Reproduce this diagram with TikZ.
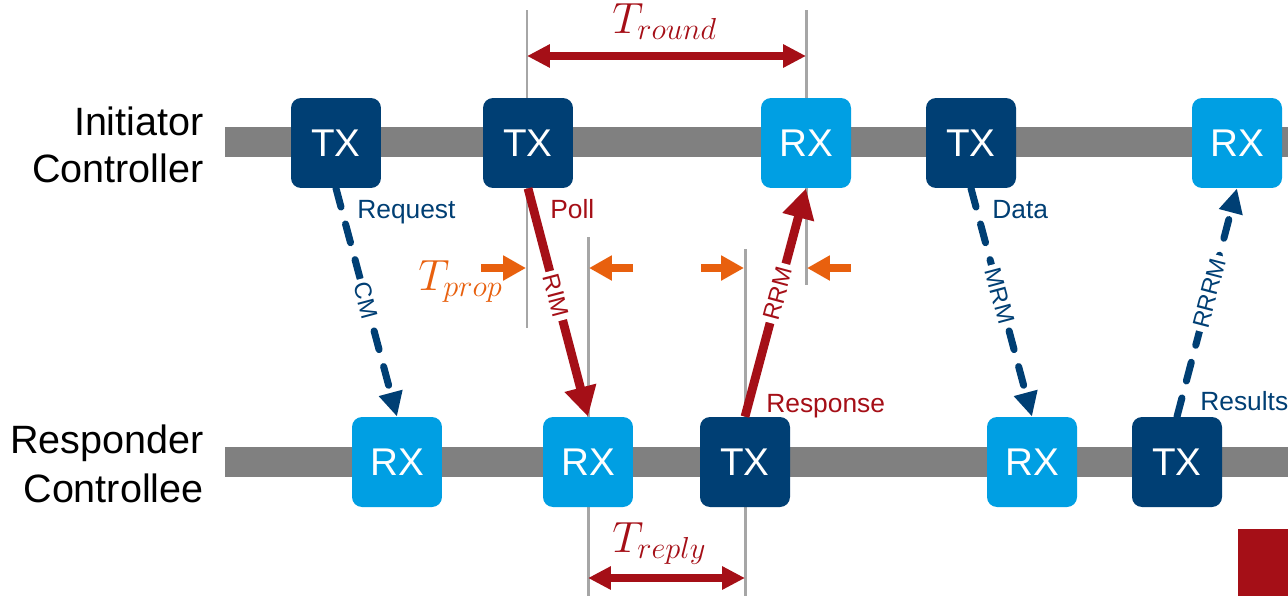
\documentclass[tikz,border=0pt]{standalone}
\usepackage{fontspec}
\setmainfont{Liberation Sans}
\DeclareMathSizes{23}{23}{18.5}{14}
\usetikzlibrary{arrows.meta}
\definecolor{dblue}{HTML}{003F74}
\definecolor{lblue}{HTML}{009FE3}
\definecolor{dred}{HTML}{A50F17}
\definecolor{orng}{HTML}{E8600E}
\definecolor{barg}{HTML}{808080}
\definecolor{vgray}{HTML}{A6A6A6}
\begin{document}
\begin{tikzpicture}[x=0.02cm,y=-0.02cm,
  box/.style={rounded corners=0.2cm, minimum size=1.8cm, inner sep=0pt, text=white, font=\fontsize{22}{26}\selectfont},
  txbox/.style={box, fill=dblue},
  rxbox/.style={box, fill=lblue},
  guide/.style={draw=vgray, line width=1.7pt},
  bmsg/.style={draw=dblue, line width=4pt, dash pattern=on 11pt off 10pt, line cap=round, -{Triangle[length=14pt,width=13pt]}},
  rmsg/.style={draw=dred, line width=5pt, -{Triangle[length=17pt,width=17.5pt]}},
  dim/.style={draw=dred, line width=4.5pt, {Triangle[length=13pt,width=12.5pt]}-{Triangle[length=13pt,width=12.5pt]}},
  oarr/.style={draw=orng, line width=4.5pt, -{Triangle[length=13pt,width=13.5pt]}},
  onlbl/.style={sloped, fill=white, inner sep=2pt, font=\fontsize{13.5}{15}\selectfont},
  blbl/.style={onlbl, text=dblue},
  rlbl/.style={onlbl, text=dred},
  evlbl/.style={anchor=base west, inner sep=0pt, font=\fontsize{15}{18}\selectfont},
  side/.style={anchor=base east, inner sep=0pt, font=\fontsize{22.5}{27}\selectfont},
  tlbl/.style={anchor=base west, inner sep=0pt, font=\fontsize{23}{27}\selectfont}
]
\useasboundingbox (0,0) rectangle (1288,596);
\fill[white] (0,0) rectangle (1288,596);
% bars
\fill[barg] (225,127) rectangle (1288,157);
\fill[barg] (225,447) rectangle (1288,477);
% guide lines
\coordinate (g1t) at (527,10);  \coordinate (g1b) at (527,328);
\coordinate (g2t) at (806,10);  \coordinate (g2b) at (806,285);
\coordinate (g3t) at (588,237); \coordinate (g3b) at (588,596);
\coordinate (g4t) at (745,249); \coordinate (g4b) at (745,596);
\draw[guide] (g1t) -- (g1b);
\draw[guide] (g2t) -- (g2b);
\draw[guide] (g3t) -- (g3b);
\draw[guide] (g4t) -- (g4b);
% boxes
\node[txbox] (t1) at (336,143) {TX};
\node[txbox] (t2) at (528,143) {TX};
\node[rxbox] (r1) at (806,143) {RX};
\node[txbox] (t3) at (971,143) {TX};
\node[rxbox] (r2) at (1237,143) {RX};
\node[rxbox] (b1) at (397,462) {RX};
\node[rxbox] (b2) at (588,462) {RX};
\node[txbox] (b3) at (745,462) {TX};
\node[rxbox] (b4) at (1032,462) {RX};
\node[txbox] (b5) at (1177,462) {TX};
% side labels
\node[side] (i1) at (204,135) {Initiator};
\node[side] (i2) at (204,182) {Controller};
\node[side] (p1) at (204,453) {Responder};
\node[side] (p2) at (204,502) {Controllee};
% messages
\draw[bmsg] (t1.south) -- node[blbl, pos=0.49] {CM} (b1.north);
\draw[rmsg] (t2.south) -- node[rlbl, pos=0.47] {RIM} (b2.north);
\draw[rmsg] (b3.north) -- node[rlbl, pos=0.54] {RRM} (r1.south);
\draw[bmsg] (t3.south) -- node[blbl, pos=0.47] {MRM} (b4.north);
\draw[bmsg] (b5.north) -- node[blbl, pos=0.54] {RRRM} (r2.south);
% event labels
\node[evlbl, text=dblue] (req) at (357,218) {Request};
\node[evlbl, text=dred] (poll) at (550,218) {Poll};
\node[evlbl, text=dblue] (data) at (992,218) {Data};
\node[evlbl, text=dred] (resp) at (766,412) {Response};
\node[evlbl, text=dblue] (res) at (1200,410) {Results};
% timing
\coordinate (ra) at (527,56); \coordinate (rb) at (806,56);
\draw[dim] (ra) -- (rb);
\node[tlbl, text=dred] (tround) at (612,33) {$T_{round}$};
\coordinate (pa) at (588,578); \coordinate (pb) at (745,578);
\draw[dim] (pa) -- (pb);
\node[tlbl, text=dred] (treply) at (612,552) {$T_{reply}$};
\node[tlbl, text=orng] (tprop) at (418,290) {$T_{prop}$};
\coordinate (o1s) at (481,268); \coordinate (o1e) at (526,268);
\coordinate (o2s) at (633,268); \coordinate (o2e) at (589,268);
\coordinate (o3s) at (701,268); \coordinate (o3e) at (744,268);
\coordinate (o4s) at (851,268); \coordinate (o4e) at (807,268);
\draw[oarr] (o1s) -- (o1e);
\draw[oarr] (o2s) -- (o2e);
\draw[oarr] (o3s) -- (o3e);
\draw[oarr] (o4s) -- (o4e);
% red square
\fill[dred] (1238,529) rectangle (1288,596);
\end{tikzpicture}
\end{document}
